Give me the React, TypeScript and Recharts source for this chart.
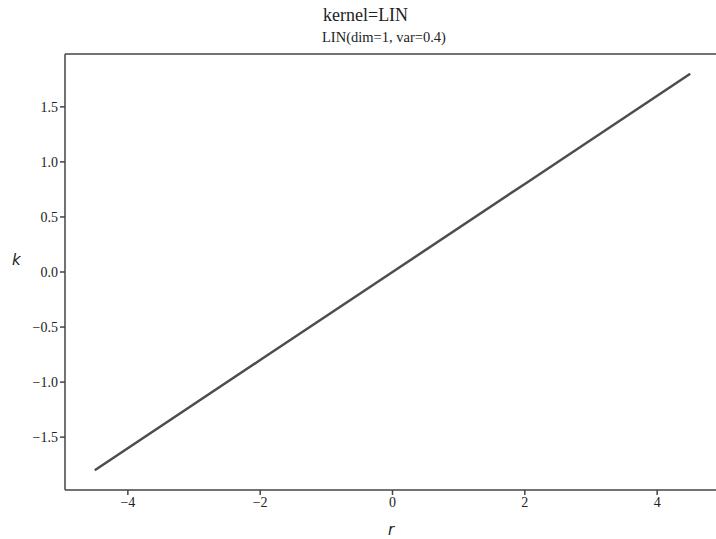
import { LineChart, Line, XAxis, YAxis, ReferenceLine } from 'recharts';

// values: LIN kernel, k = 0.4 * r
const R_VALUES = [-4.5, -2, 0, 2, 4.5];
const K_VALUES = [-1.8, -0.8, 0, 0.8, 1.8];
const X_TICKS = [-4, -2, 0, 2, 4];
const Y_TICKS = [-1.5, -1.0, -0.5, 0.0, 0.5, 1.0, 1.5];
const X_DOMAIN = [-4.95, 4.95];
const Y_DOMAIN = [-1.98, 1.98];

const TITLE = 'kernel=LIN';
const SUBTITLE = 'LIN(dim=1, var=0.4)';

const data = R_VALUES.map((r, i) => ({ r, k: K_VALUES[i] }));

const FONT = '"Liberation Serif", "DejaVu Serif", serif';
const MATH_FONT = '"DejaVu Sans", sans-serif';
const SPINE = '#444';
const tickStyle = { fill: '#222', fontSize: 14, fontFamily: FONT } as const;

const minus = (s: string) => s.replace('-', '\u2212');

export default function App() {
  return (
    <div
      style={{
        position: 'absolute',
        left: 0,
        top: 0,
        width: 716,
        height: 539,
        overflow: 'hidden',
        background: '#fff',
        fontFamily: FONT,
      }}
    >
      <div style={{ position: 'absolute', left: 323, top: 5, fontSize: 18, color: '#222', whiteSpace: 'nowrap' }}>
        {TITLE}
      </div>
      <div style={{ position: 'absolute', left: 322, top: 29, fontSize: 14.5, color: '#222', whiteSpace: 'nowrap' }}>
        {SUBTITLE}
      </div>
      <div
        style={{
          position: 'absolute',
          left: 12,
          top: 251,
          fontSize: 15,
          fontStyle: 'italic',
          fontFamily: MATH_FONT,
          color: '#222',
        }}
      >
        k
      </div>
      <div
        style={{
          position: 'absolute',
          left: 388,
          top: 521,
          fontSize: 15,
          fontStyle: 'italic',
          fontFamily: MATH_FONT,
          color: '#222',
        }}
      >
        r
      </div>
      <LineChart width={730} height={539} data={data} margin={{ top: 54, right: 10, left: 0, bottom: 0 }}>
        <XAxis
          dataKey="r"
          type="number"
          domain={X_DOMAIN}
          ticks={X_TICKS}
          allowDataOverflow
          height={49}
          axisLine={{ stroke: SPINE, strokeWidth: 1.5 }}
          tickLine={{ stroke: SPINE, strokeWidth: 1.5 }}
          tickSize={5}
          tick={tickStyle}
          tickFormatter={(v: number) => minus(String(v))}
        />
        <YAxis
          type="number"
          domain={Y_DOMAIN}
          ticks={Y_TICKS}
          allowDataOverflow
          width={65}
          axisLine={{ stroke: SPINE, strokeWidth: 1.5 }}
          tickLine={{ stroke: SPINE, strokeWidth: 1.5 }}
          tickSize={5}
          tick={tickStyle}
          tickFormatter={(v: number) => minus(v.toFixed(1))}
        />
        <ReferenceLine y={Y_DOMAIN[1]} stroke={SPINE} strokeWidth={1.5} />
        <ReferenceLine x={X_DOMAIN[1]} stroke={SPINE} strokeWidth={1.5} />
        <Line
          type="linear"
          dataKey="k"
          stroke="#4d4d4d"
          strokeWidth={2.5}
          dot={false}
          isAnimationActive={false}
        />
      </LineChart>
    </div>
  );
}
